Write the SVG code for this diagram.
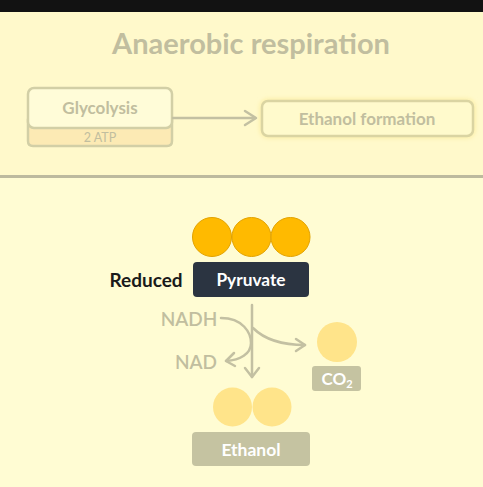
<svg xmlns="http://www.w3.org/2000/svg" width="483" height="487" viewBox="0 0 483 487">
<defs>
<style>
.faded{font-family:Lato,"Open Sans","Liberation Sans",sans-serif;fill:#C1BE9F;}
.line{fill:none;stroke:#C3C0A2;stroke-width:2.5;stroke-linecap:round;stroke-linejoin:round;}
.head{fill:none;stroke:#C3C0A2;stroke-width:2.5;stroke-linecap:round;stroke-linejoin:round;}
.lbl{font-family:Lato,"Open Sans","Liberation Sans",sans-serif;fill:#FFFFFF;text-anchor:middle;}
</style>
<filter id="glow" x="-10%" y="-30%" width="120%" height="160%"><feGaussianBlur stdDeviation="2"/></filter>
</defs>
<rect x="0" y="0" width="483" height="487" fill="#FFFCD3"/>
<rect x="0" y="12" width="483" height="163" fill="#FFF9CB"/>
<rect x="0" y="0" width="483" height="12" fill="#121212"/>
<rect x="0" y="175" width="483" height="3" fill="#BDBA9E"/>

<text class="faded" x="251" y="54" font-size="29" font-weight="bold" text-anchor="middle">Anaerobic respiration</text>

<g id="glycolysis">
<path d="M28,120 L28,141 Q28,146 33,146 L167,146 Q172,146 172,141 L172,120 Z" fill="#FCEAB4" stroke="#D2CFA6" stroke-width="2.5"/>
<rect x="28" y="88" width="144" height="40" rx="6" fill="#FFFCD8" stroke="#D2CFA6" stroke-width="2.5"/>
<text class="faded" x="100" y="114" font-size="17" font-weight="bold" text-anchor="middle">Glycolysis</text>
<text class="faded" x="100" y="142" font-size="12.5" text-anchor="middle" fill="#D0CCA8">2 ATP</text>
</g>

<g id="ethanol-formation">
<rect x="262" y="101" width="211" height="35" rx="6" fill="none" stroke="#FCEFA8" stroke-width="5" filter="url(#glow)"/>
<rect x="262" y="101" width="211" height="35" rx="6" fill="#FFFACC" stroke="#DAD4A2" stroke-width="2.5"/>
<text class="faded" x="367" y="125" font-size="17" font-weight="bold" text-anchor="middle">Ethanol formation</text>
</g>

<g id="connectors">
<path class="line" d="M173,118 L255,118"/>
<path class="head" d="M245,111 L256,118 L245,125"/>
<path class="line" d="M252,305 L252,377"/>
<path class="head" d="M245,368 L252,377 L259,368"/>
<path class="line" d="M221,318 C243,318 251,333 251,343 C251,354 240,360 226,361"/>
<path class="head" d="M234,353 L226,361 L235,366"/>
<path class="line" d="M253,328 C265,340 285,345 305,345"/>
<path class="head" d="M296,339 L305,345 L296,351"/>
</g>

<g id="pyruvate">
<circle cx="212" cy="237" r="19.5" fill="#FFBA00" stroke="#E2A200" stroke-width="1"/>
<circle cx="251.5" cy="237" r="19.5" fill="#FFBA00" stroke="#E2A200" stroke-width="1"/>
<circle cx="290.5" cy="237" r="19.5" fill="#FFBA00" stroke="#E2A200" stroke-width="1"/>
<rect x="193" y="262" width="116" height="35" rx="4" fill="#2B3441"/>
<text class="lbl" x="251" y="286" font-size="17.3" font-weight="bold">Pyruvate</text>
</g>

<g id="reduced">
<text x="146" y="287" font-family="Lato,'Open Sans','Liberation Sans',sans-serif" font-size="19" font-weight="bold" fill="#1A1A1A" text-anchor="middle">Reduced</text>
</g>

<g id="nadh">
<text class="faded" x="189" y="326" font-size="19" font-weight="600" text-anchor="middle">NADH</text>
</g>
<g id="nad">
<text class="faded" x="196" y="369" font-size="19" font-weight="600" text-anchor="middle">NAD</text>
</g>

<g id="co2">
<circle cx="337" cy="342" r="20" fill="#FFE48A"/>
<rect x="312" y="366" width="49" height="25" rx="3" fill="#C5C3A1"/>
<text class="lbl" x="337" y="385" font-size="17" font-weight="bold">CO<tspan font-size="11" dy="3">2</tspan></text>
</g>

<g id="ethanol">
<circle cx="232.5" cy="407" r="19.5" fill="#FFE48A"/>
<circle cx="272" cy="407" r="19.5" fill="#FFE48A"/>
<rect x="192" y="432" width="118" height="34" rx="4" fill="#C5C3A1"/>
<text class="lbl" x="251" y="456" font-size="17.5" font-weight="bold">Ethanol</text>
</g>
</svg>
